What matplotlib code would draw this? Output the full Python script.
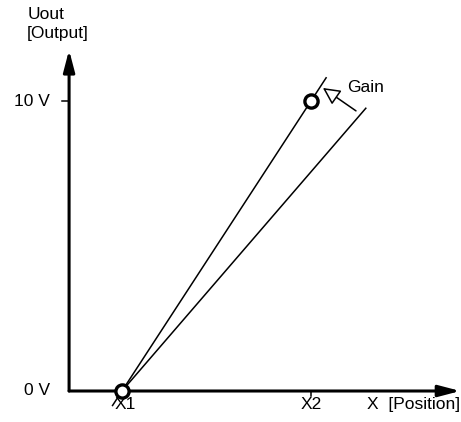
import matplotlib.pyplot as plt

plt.rcParams['font.family'] = ['Liberation Sans', 'DejaVu Sans']

# Datos (posicion en unidades de X1/X2, salida en voltios)
x_ticks = [1, 2]
x_labels = ['X1', 'X2']
y_ticks = [0, 10]
y_labels = ['0 V', '10 V']

# recta de ganancia alta (pasa por X1 -> 0 V y X2 -> 10 V)
high_x = [0.95, 1, 2, 2.08]
high_y = [-0.5, 0, 10, 10.8]
# recta de ganancia baja
low_x = [1, 2.29]
low_y = [0, 9.75]

# puntos de calibracion
pts_x = [1, 2]
pts_y = [0, 10]

# ejes
x_axis_start, x_axis_end = 0.72, 2.79
y_axis_end = 11.76

fig = plt.figure(figsize=(4.61, 4.22), dpi=100)
ax = fig.add_axes([0, 0, 1, 1])
ax.set_xlim(0.3545, 2.7937)
ax.set_ylim(-1.069, 13.483)
ax.axis('off')

ax_kw = dict(arrowstyle='-|>,head_length=0.65,head_width=0.17', lw=2.2,
             color='black', mutation_scale=20, shrinkA=0, shrinkB=0)
ax.annotate('', xy=(x_axis_end, 0), xytext=(x_axis_start, 0), arrowprops=ax_kw)
ax.annotate('', xy=(x_axis_start, y_axis_end), xytext=(x_axis_start, 0), arrowprops=ax_kw)

# marcas
ax.plot([x_axis_start - 0.04, x_axis_start], [10, 10], color='black', lw=1.1)
ax.plot([2, 2], [0, -0.17], color='black', lw=1.1)

# rectas
ax.plot(high_x, high_y, color='black', lw=1.1)
ax.plot(low_x, low_y, color='black', lw=1.1)
ax.plot(pts_x, pts_y, 'o', ms=9.5, mfc='white', mec='black', mew=2.4, zorder=5)

# flecha de ganancia (hueca)
ax.annotate('', xy=(2.063, 10.45), xytext=(2.238, 9.66),
            arrowprops=dict(arrowstyle='-|>,head_length=0.58,head_width=0.29',
                            lw=1.1, color='black', fc='white',
                            mutation_scale=18, shrinkA=0, shrinkB=0))
ax.text(2.19, 10.48, 'Gain', fontsize=12.5, ha='left', va='center')

# etiquetas
for yv, lab in zip(y_ticks, y_labels):
    ax.text(0.619, yv, lab, fontsize=12.5, ha='right', va='center')
for xv, lab in zip(x_ticks, x_labels):
    dx = 0.02 if lab == 'X1' else 0
    ax.text(xv + dx, -0.22, lab, fontsize=12.5, ha='center', va='top')
ax.text(2.788, -0.22, 'X  [Position]', fontsize=12.5, ha='right', va='top')
ax.text(0.503, 12.97, 'Uout', fontsize=12.5, ha='left', va='center')
ax.text(0.497, 12.34, '[Output]', fontsize=12.5, ha='left', va='center')

plt.savefig('out.png', dpi=100)
